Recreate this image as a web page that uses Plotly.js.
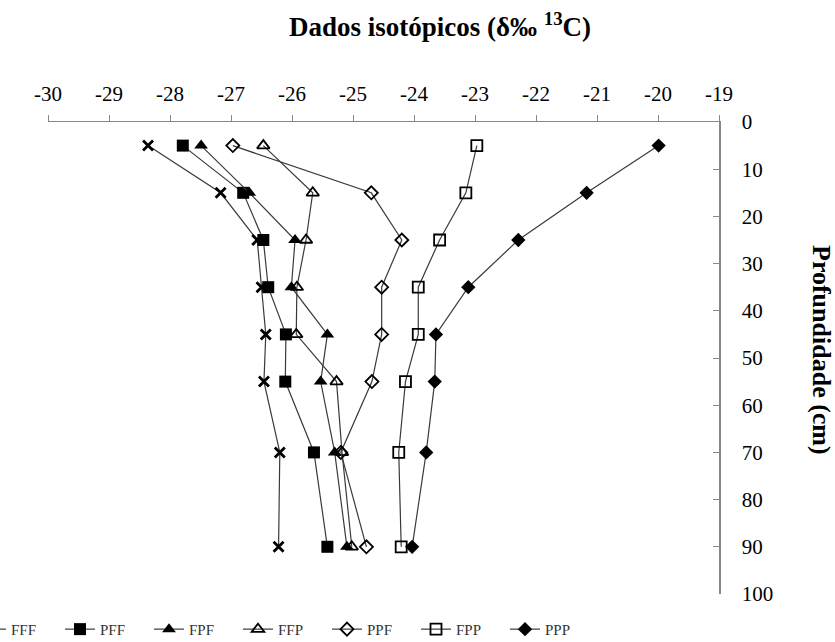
<!DOCTYPE html>
<html>
<head>
<meta charset="utf-8">
<script src="https://cdn.plot.ly/plotly-3.0.1.min.js"></script>
<style>html,body{margin:0;padding:0;background:#fff;}#chart{width:835px;height:642px;}</style>
</head>
<body>
<div id="chart"></div>
<script>
// Depth (cm)
const depth = [5, 15, 25, 35, 45, 55, 70, 90];
// δ13C (‰) per treatment
const FFF = [-28.36, -27.17, -26.57, -26.50, -26.43, -26.46, -26.20, -26.22];
const PFF = [-27.79, -26.80, -26.47, -26.39, -26.10, -26.11, -25.64, -25.42];
const FPF = [-27.49, -26.70, -25.95, -26.01, -25.42, -25.53, -25.30, -25.10];
const FFP = [-26.47, -25.66, -25.77, -25.92, -25.93, -25.27, -25.18, -25.02];
const PPF = [-26.97, -24.70, -24.20, -24.53, -24.53, -24.69, -25.20, -24.78];
const FPP = [-22.97, -23.15, -23.58, -23.93, -23.93, -24.14, -24.25, -24.21];
const PPP = [-19.99, -21.17, -22.29, -23.11, -23.64, -23.66, -23.80, -24.03];

const seriesNames = ['FFF', 'PFF', 'FPF', 'FFP', 'PPF', 'FPP', 'PPP'];
const seriesValues = [FFF, PFF, FPF, FFP, PPF, FPP, PPP];
const xTicks = [-30, -29, -28, -27, -26, -25, -24, -23, -22, -21, -20, -19];
const yTicks = [0, 10, 20, 30, 40, 50, 60, 70, 80, 90, 100];

const symbols = ['x-thin-open', 'square', 'triangle-up', 'triangle-up-open', 'diamond-open', 'square-open', 'diamond'];
const sizes = [10, 12, 12, 11, 10, 11, 11];
const lineW = [2.8, 0, 0, 1.8, 1.8, 1.8, 0];

const traces = seriesNames.map((n, i) => ({
  type: 'scatter',
  mode: 'lines+markers',
  name: n,
  x: seriesValues[i],
  y: depth,
  line: {color: '#3a3a3a', width: 1.2},
  marker: {symbol: symbols[i], size: sizes[i], color: '#000',
           line: {color: '#000', width: lineW[i]}},
  cliponaxis: false
}));

const layout = {
  width: 835, height: 642,
  paper_bgcolor: '#fff', plot_bgcolor: '#fff',
  margin: {l: 48, r: 116, t: 122, b: 48, autoexpand: false},
  font: {family: 'Liberation Serif, Times New Roman, serif', color: '#000'},
  title: {
    text: '<b>Dados isotópicos (δ‰ <sup>13</sup>C)</b>',
    font: {family: 'Liberation Serif, serif', size: 27, color: '#000'},
    x: 440 / 835, xanchor: 'center', xref: 'container',
    y: 1 - 27 / 642, yanchor: 'middle', yref: 'container'
  },
  xaxis: {
    side: 'top', range: [-30, -19],
    tickvals: xTicks, ticktext: xTicks.map(String),
    ticks: 'outside', ticklen: 6, tickwidth: 1, tickcolor: '#888',
    showline: true, linecolor: '#888', linewidth: 1.5,
    showgrid: false, zeroline: false,
    tickfont: {size: 21, family: 'Liberation Serif, serif', color: '#000'},
    ticklabelstandoff: 5
  },
  yaxis: {
    side: 'right', range: [100, 0],
    tickvals: yTicks, ticktext: yTicks.map(String),
    ticks: 'inside', ticklen: 6, tickwidth: 1, tickcolor: '#888',
    showline: true, linecolor: '#888', linewidth: 1.5,
    showgrid: false, zeroline: false,
    tickfont: {size: 21, family: 'Liberation Serif, serif', color: '#000'},
    ticklabelstandoff: 17
  },
  annotations: [{
    text: '<b>Profundidade (cm)</b>',
    textangle: 90,
    xref: 'paper', yref: 'paper',
    x: (822 - 48) / 671, y: (594 - 350) / 472,
    xanchor: 'center', yanchor: 'middle',
    showarrow: false,
    font: {family: 'Liberation Serif, serif', size: 26, color: '#000'}
  }],
  showlegend: true,
  legend: {
    orientation: 'h',
    x: (-29 - 48) / 671, xanchor: 'left',
    y: -0.04, yanchor: 'top',
    entrywidth: 44, entrywidthmode: 'pixels',
    font: {size: 15, family: 'Liberation Serif, serif', color: '#333'},
    bgcolor: 'rgba(0,0,0,0)', borderwidth: 0
  }
};

Plotly.newPlot('chart', traces, layout, {displayModeBar: false, staticPlot: true});
</script>
</body>
</html>
